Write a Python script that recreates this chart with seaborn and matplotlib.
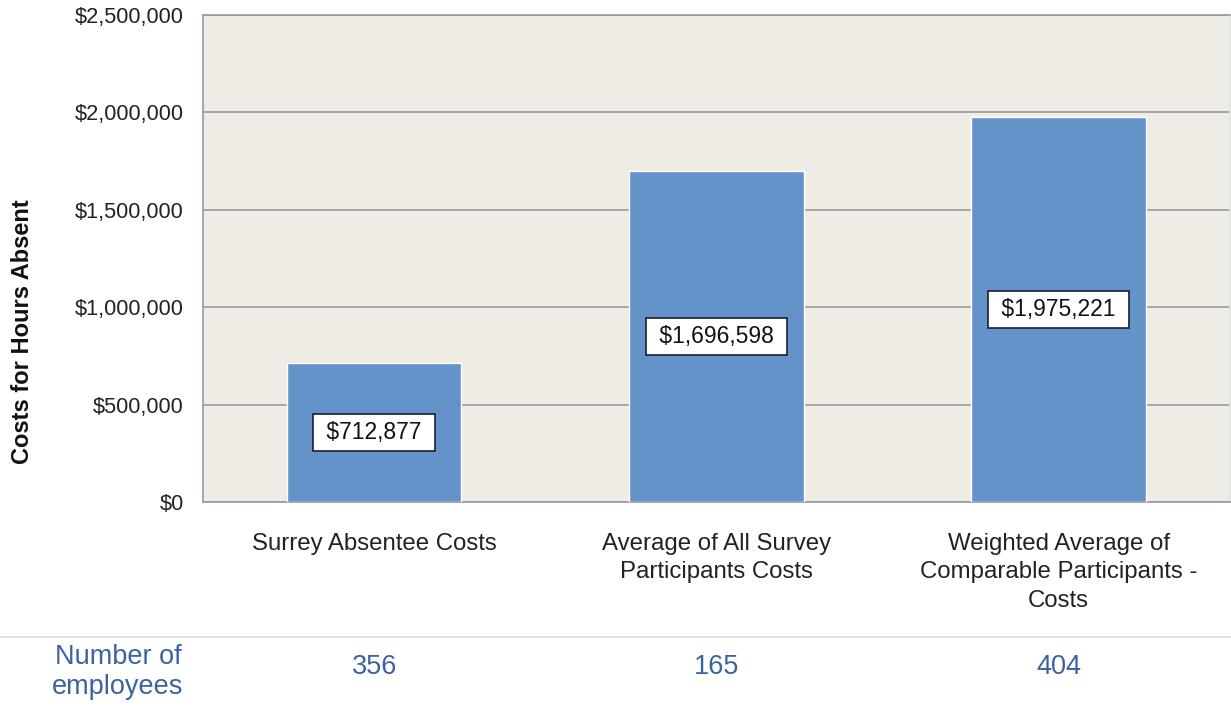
import matplotlib
matplotlib.use("Agg")
import matplotlib.pyplot as plt
import seaborn as sns
import pandas as pd
from matplotlib.lines import Line2D
from matplotlib.ticker import FuncFormatter

categories = ["Surrey Absentee Costs",
              "Average of All Survey\nParticipants Costs",
              "Weighted Average of\nComparable Participants -\nCosts"]
costs = [712877, 1696598, 1975221]
employees = [356, 165, 404]
y_ticks = [0, 500000, 1000000, 1500000, 2000000, 2500000]

sns.set_theme(style="white")
plt.rcParams['font.family'] = ['Liberation Sans', 'DejaVu Sans']

df = pd.DataFrame({"category": categories, "cost": costs})

fig = plt.figure(figsize=(12.31, 7.07), dpi=100)
ax = fig.add_axes([0.165, 0.29, 0.834, 0.689])
ax.set_facecolor("#eeece4")

sns.barplot(data=df, x="category", y="cost", color="#6393c8", saturation=1,
            width=0.51, ax=ax, zorder=3)

ax.set_ylim(0, 2500000)
ax.set_xlim(-0.5, 2.5)
ax.set_yticks(y_ticks)
ax.yaxis.set_major_formatter(FuncFormatter(lambda v, p: f"${v:,.0f}"))
ax.grid(axis="y", color="#9a9a9a", linewidth=1.2, zorder=0)
ax.set_axisbelow(True)
for s in ["left", "top", "bottom", "right"]:
    ax.spines[s].set_color("#9a9a9a")
    ax.spines[s].set_linewidth(1.2)
ax.spines["right"].set_color("#e0e0e0")

ax.tick_params(axis="y", length=0, pad=14, labelsize=15.7, labelcolor="#222222")
ax.tick_params(axis="x", length=0, pad=22, labelsize=17.3, labelcolor="#222222")
for lab in ax.get_xticklabels():
    lab.set_verticalalignment("top")
    lab.set_linespacing(1.4)
ax.set_xlabel("")
ax.set_ylabel("Costs for Hours Absent", fontsize=17, fontweight="bold",
              color="#111111")
ax.yaxis.set_label_coords(-0.165, 0.349)

for i, v in enumerate(costs):
    ax.text(i, v / 2, f" ${v:,.0f} ", ha="center", va="center", fontsize=16.5,
            color="#111111", zorder=5,
            bbox=dict(boxstyle="square,pad=0.3", facecolor="white",
                      edgecolor="#1a1a3a", linewidth=1.2))

# Divider line and employee row
fig.add_artist(Line2D([0, 1], [1 - 637 / 707, 1 - 637 / 707],
                      transform=fig.transFigure, color="#dcdcdc", linewidth=1.2))
blue = "#3d62a0"
fig.text(118 / 1231, 1 - 672 / 707, "Number of\nemployees", ha="center",
         va="center", fontsize=19.5, color=blue, linespacing=1.25)
trans = matplotlib.transforms.blended_transform_factory(ax.transData, fig.transFigure)
for i, n in enumerate(employees):
    ax.text(i, 1 - 667 / 707, str(n), transform=trans, ha="center", va="center",
            fontsize=19.5, color=blue, clip_on=False)

fig.savefig("out.png", dpi=100)
